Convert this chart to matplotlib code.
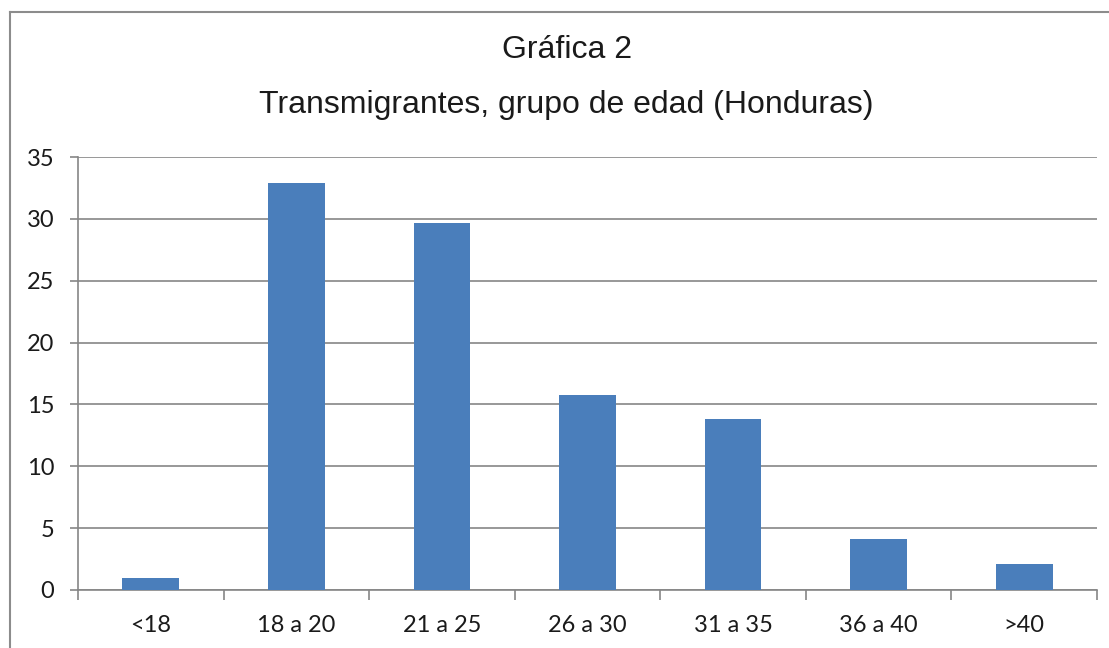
import matplotlib
matplotlib.use("Agg")
import matplotlib.pyplot as plt
from matplotlib.lines import Line2D
import numpy as np

categories = ["<18", "18 a 20", "21 a 25", "26 a 30", "31 a 35", "36 a 40", ">40"]
values = [1.0, 32.9, 29.7, 15.8, 13.8, 4.1, 2.1]
yticks = [0, 5, 10, 15, 20, 25, 30, 35]

bar_color = "#4a7ebb"
grid_color = "#868686"
text_color = "#1a1a1a"

fig = plt.figure(figsize=(11.09, 6.48), dpi=100)
ax = fig.add_axes([78 / 1109, 1 - 590 / 648, (1097 - 78) / 1109, (590 - 157) / 648])

x = np.arange(len(categories))
ax.bar(x, values, width=0.39, color=bar_color, zorder=3)

ax.set_xlim(-0.5, len(categories) - 0.5)
ax.set_ylim(0, 35)
ax.set_yticks(yticks)
ax.yaxis.grid(True, color=grid_color, linewidth=1.2, zorder=0)

for s in ["top", "right"]:
    ax.spines[s].set_visible(False)
ax.spines["left"].set_color(grid_color)
ax.spines["bottom"].set_color(grid_color)
ax.spines["left"].set_linewidth(1.2)
ax.spines["bottom"].set_linewidth(1.2)

# category labels at centres, tick marks at category boundaries
ax.set_xticks(x)
ax.set_xticklabels(categories, family="Lato", fontsize=17, color=text_color)
ax.tick_params(axis="x", which="major", length=0, pad=18)
ax.set_xticks(np.arange(len(categories) + 1) - 0.5, minor=True)
ax.tick_params(axis="x", which="minor", length=7, color=grid_color, width=1.2)
ax.tick_params(axis="y", length=6, color=grid_color, width=1.2, pad=11,
               labelsize=17, labelcolor=text_color)
for lbl in ax.get_yticklabels():
    lbl.set_family("Lato")

fig.text(0.511, 1 - 50 / 648, "Gráfica 2", ha="center", va="center",
         family="Liberation Sans", fontsize=23, color=text_color)
fig.text(0.511, 1 - 105 / 648, "Transmigrantes, grupo de edad (Honduras)",
         ha="center", va="center", family="Liberation Sans", fontsize=23, color=text_color)

# outer chart frame
fig.add_artist(Line2D([10 / 1109, 1.0], [1 - 12 / 648, 1 - 12 / 648],
                      transform=fig.transFigure, color="#8c8c8c", lw=1.5))
fig.add_artist(Line2D([10 / 1109, 10 / 1109], [0, 1 - 12 / 648],
                      transform=fig.transFigure, color="#8c8c8c", lw=1.5))

fig.savefig("out.png", dpi=100)
